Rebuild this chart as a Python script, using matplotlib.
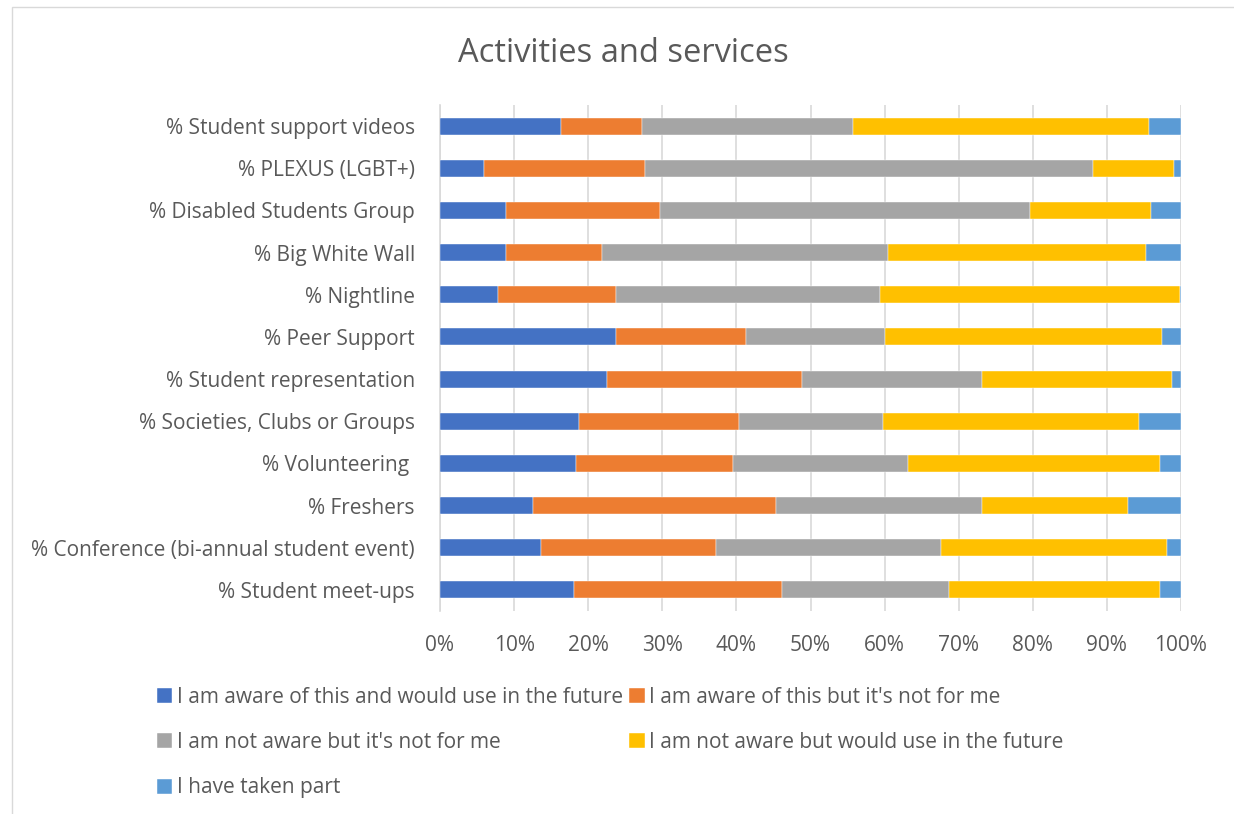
import matplotlib.pyplot as plt
from matplotlib.patches import Rectangle
from matplotlib.ticker import FuncFormatter

categories = [
    "% Student meet-ups",
    "% Conference (bi-annual student event)",
    "% Freshers",
    "% Volunteering ",
    "% Societies, Clubs or Groups",
    "% Student representation",
    "% Peer Support",
    "% Nightline",
    "% Big White Wall",
    "% Disabled Students Group",
    "% PLEXUS (LGBT+)",
    "% Student support videos",
]

series_names = [
    "I am aware of this and would use in the future",
    "I am aware of this but it's not for me",
    "I am not aware but it's not for me",
    "I am not aware but would use in the future",
    "I have taken part",
]

aware_use = [18.1, 13.6, 12.6, 18.4, 18.7, 22.5, 23.8, 7.8, 8.9, 8.9, 6.0, 16.3]
aware_not_for_me = [28.1, 23.6, 32.8, 21.1, 21.6, 26.3, 17.5, 16.0, 13.0, 20.8, 21.6, 11.0]
not_aware_not_for_me = [22.5, 30.4, 27.7, 23.7, 19.5, 24.3, 18.8, 35.6, 38.6, 49.9, 60.5, 28.4]
not_aware_use = [28.4, 30.5, 19.8, 33.9, 34.5, 25.7, 37.3, 40.4, 34.8, 16.4, 11.0, 40.0]
taken_part = [2.9, 1.9, 7.1, 2.9, 5.7, 1.2, 2.6, 0.2, 4.7, 4.0, 0.9, 4.3]

colors = ["#4472C4", "#ED7D31", "#A5A5A5", "#FFC000", "#5B9BD5"]
text_color = "#595959"

plt.rcParams["font.family"] = ["Open Sans", "DejaVu Sans"]

fig = plt.figure(figsize=(12.34, 8.14), dpi=100)
ax = fig.add_axes([440 / 1234, 1 - 611 / 814, 741 / 1234, 506 / 814])

# outer chart frame
fig.patches.append(Rectangle((12 / 1234, -0.05), 1.1, 1 - 7 / 814 + 0.05,
                             transform=fig.transFigure, fill=False,
                             edgecolor="#d9d9d9", linewidth=1))

all_series = [aware_use, aware_not_for_me, not_aware_not_for_me, not_aware_use, taken_part]
y = list(range(len(categories)))
left = [0.0] * len(categories)
handles = []
for vals, name, col in zip(all_series, series_names, colors):
    bars = ax.barh(y, vals, left=left, height=0.4, color=col, label=name,
                   edgecolor="white", linewidth=0.3, zorder=3)
    handles.append(bars)
    left = [l + v for l, v in zip(left, vals)]

ax.set_xlim(0, 100)
ax.set_ylim(-0.5, len(categories) - 0.5)
ax.set_xticks(range(0, 101, 10))
ax.xaxis.set_major_formatter(FuncFormatter(lambda v, p: f"{int(v)}%"))
ax.set_yticks(y)
ax.set_yticklabels(categories)
ax.tick_params(axis="both", length=0, labelsize=15, colors=text_color)
ax.tick_params(axis="x", pad=17)
ax.tick_params(axis="y", pad=18)
ax.grid(axis="x", color="#d9d9d9", linewidth=1.2, zorder=0)
for s in ["top", "right", "bottom"]:
    ax.spines[s].set_visible(False)
ax.spines["left"].set_color("#d9d9d9")
ax.spines["left"].set_linewidth(1.2)

fig.text(623 / 1234, 1 - 62 / 814, "Activities and services", ha="center", va="baseline",
         fontsize=23.5, color=text_color)

# 2-column legend, filled row by row
order = [0, 2, 4, 1, 3]
fig.legend([handles[i] for i in order], [series_names[i] for i in order],
           loc="upper left", bbox_to_anchor=(138 / 1234, 1 - 668 / 814), ncol=2,
           frameon=False, fontsize=15, labelcolor=text_color,
           handlelength=0.75, handleheight=0.75, handletextpad=0.2,
           columnspacing=0.3, labelspacing=1.17)

fig.savefig("out.png", dpi=100)
